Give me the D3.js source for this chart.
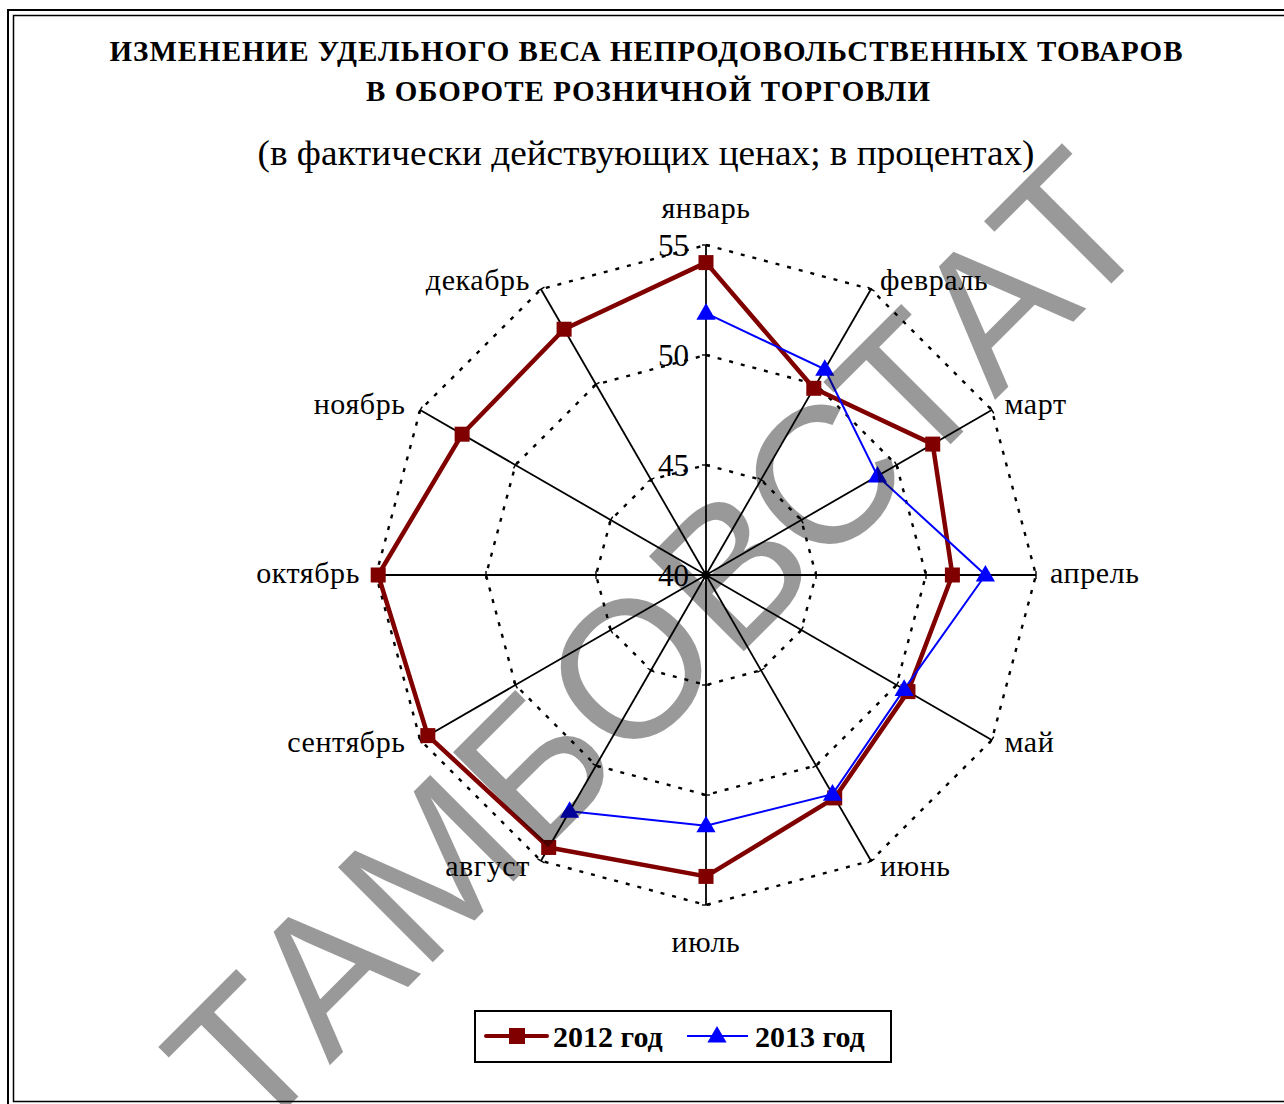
<!DOCTYPE html>
<html><head><meta charset="utf-8">
<script src="https://cdn.jsdelivr.net/npm/d3@7"></script>
<style>body{margin:0;background:#fff}svg{display:block}</style>
</head><body>
<script>
const months = ["январь","февраль","март","апрель","май","июнь","июль","август","сентябрь","октябрь","ноябрь","декабрь"];
const values2012 = [54.2,49.8,51.9,51.2,50.6,51.7,53.7,54.3,54.6,54.9,52.8,52.9];
const values2013 = [51.9,50.8,49.0,52.7,50.4,51.5,51.4,52.4,null,null,null,null];
const gridTicks = [40,45,50,55];
const seriesNames = ["2012 год","2013 год"];
const titleLines = ["ИЗМЕНЕНИЕ  УДЕЛЬНОГО  ВЕСА  НЕПРОДОВОЛЬСТВЕННЫХ  ТОВАРОВ","В  ОБОРОТЕ  РОЗНИЧНОЙ  ТОРГОВЛИ"];
const subtitle = "(в фактически действующих ценах; в процентах)";
const watermark = "ТАМБОВСТАТ";

const W=1284,H=1104;
const svg=d3.select("body").append("svg").attr("width",W).attr("height",H);
const serif="'Liberation Serif','Times New Roman',serif";

// frame
svg.append("rect").attr("x",8).attr("y",10).attr("width",1300).attr("height",1120).attr("fill","none").attr("stroke","#000").attr("stroke-width",2);
svg.append("rect").attr("x",13.5).attr("y",15.5).attr("width",1300).attr("height",1086).attr("fill","none").attr("stroke","#000").attr("stroke-width",1.5);

// titles
svg.append("text").attr("x",646).attr("y",61).attr("text-anchor","middle").attr("font-family",serif).attr("font-weight","bold").attr("font-size",29)
  .attr("textLength",1073).attr("lengthAdjust","spacing").text(titleLines[0]);
svg.append("text").attr("x",648).attr("y",101).attr("text-anchor","middle").attr("font-family",serif).attr("font-weight","bold").attr("font-size",29)
  .attr("textLength",564).attr("lengthAdjust","spacing").text(titleLines[1]);
svg.append("text").attr("x",646).attr("y",165).attr("text-anchor","middle").attr("font-family",serif).attr("font-size",35)
  .attr("textLength",777).attr("lengthAdjust","spacingAndGlyphs").text(subtitle);

const cx=706, cy=575, R=330;
const r=d3.scaleLinear().domain([40,55]).range([0,R]);
const ang=d3.scaleLinear().domain([0,months.length]).range([0,2*Math.PI]);
const pt=(i,v)=>[cx+r(v)*Math.sin(ang(i)), cy-r(v)*Math.cos(ang(i))];

const g=svg.append("g");
// grid rings
gridTicks.filter(t=>t>40).forEach(t=>{
  const pts=months.map((m,i)=>pt(i,t));
  g.append("path").attr("d",d3.line()(pts)+"Z").attr("fill","none").attr("stroke","#000").attr("stroke-width",2.4).attr("stroke-dasharray","4,8");
});
// axes
months.forEach((m,i)=>{
  const [x,y]=pt(i,55);
  g.append("line").attr("x1",cx).attr("y1",cy).attr("x2",x).attr("y2",y).attr("stroke","#000").attr("stroke-width",1.8);
  gridTicks.forEach(t=>{
    const [tx,ty]=pt(i,t); const a=ang(i);
    const dx=4*Math.cos(a), dy=4*Math.sin(a);
    g.append("line").attr("x1",tx-dx).attr("y1",ty-dy).attr("x2",tx+dx).attr("y2",ty+dy).attr("stroke","#000").attr("stroke-width",1.4);
  });
  const a=ang(i), s=Math.sin(a), c=Math.cos(a);
  let lx,ly,anchor;
  if (Math.abs(s)<0.01){ lx=x; anchor="middle"; ly = c>0 ? y-27 : y+47; }
  else if (s>0){ lx=x+4+10*Math.abs(s); anchor="start"; ly=y+8-8*c; }
  else { lx=x-6-10*Math.abs(s); anchor="end"; ly=y+8-8*c; }
  g.append("text").attr("x",lx).attr("y",ly).attr("text-anchor",anchor).attr("font-family",serif).attr("font-size",30).attr("letter-spacing",0.6).attr("fill","#000").text(m);
});
// tick labels
gridTicks.forEach(t=>{
  g.append("text").attr("x",cx-17).attr("y",cy-r(t)+11).attr("text-anchor","end").attr("font-family",serif).attr("font-size",31).text(t);
});

// series
const line=d3.line().defined(d=>d[2]!=null).x(d=>d[0]).y(d=>d[1]);
const p12=values2012.map((v,i)=>[...pt(i,v),v]);
g.append("path").attr("d",line(p12.concat([p12[0]]))).attr("fill","none").attr("stroke","#800000").attr("stroke-width",4.5).attr("stroke-linejoin","round");
const p13=values2013.map((v,i)=>v==null?[0,0,null]:[...pt(i,v),v]);
g.append("path").attr("d",line(p13)).attr("fill","none").attr("stroke","#0000ff").attr("stroke-width",2);
const tri=d3.symbol().type(d3.symbolTriangle).size(160);
p12.forEach(d=>g.append("rect").attr("x",d[0]-7.5).attr("y",d[1]-7.5).attr("width",15).attr("height",15).attr("fill","#800000"));
p13.filter(d=>d[2]!=null).forEach(d=>g.append("path").attr("d",tri()).attr("transform",`translate(${d[0]},${d[1]+1})`).attr("fill","#0000ff"));

// legend
const lg=svg.append("g");
lg.append("rect").attr("x",475).attr("y",1011).attr("width",416).attr("height",51).attr("fill","#fff").attr("stroke","#000").attr("stroke-width",2);
lg.append("line").attr("x1",486).attr("x2",547).attr("y1",1036).attr("y2",1036).attr("stroke","#800000").attr("stroke-width",4).attr("stroke-linecap","round");
lg.append("rect").attr("x",509).attr("y",1028).attr("width",16).attr("height",16).attr("fill","#800000");
lg.append("text").attr("x",553).attr("y",1047).attr("font-family",serif).attr("font-weight","bold").attr("font-size",30).text(seriesNames[0]);
lg.append("line").attr("x1",687).attr("x2",748).attr("y1",1036).attr("y2",1036).attr("stroke","#0000ff").attr("stroke-width",2);
lg.append("path").attr("d",tri()).attr("transform","translate(717,1037)").attr("fill","#0000ff");
lg.append("text").attr("x",755).attr("y",1047).attr("font-family",serif).attr("font-weight","bold").attr("font-size",30).text(seriesNames[1]);

// watermark
svg.append("text").attr("transform","translate(705,690) rotate(-45)").attr("text-anchor","middle")
  .attr("font-family","'Liberation Sans',Arial,sans-serif").attr("font-size",195).attr("fill","#000").attr("fill-opacity",0.4).text(watermark);
</script>
</body></html>
